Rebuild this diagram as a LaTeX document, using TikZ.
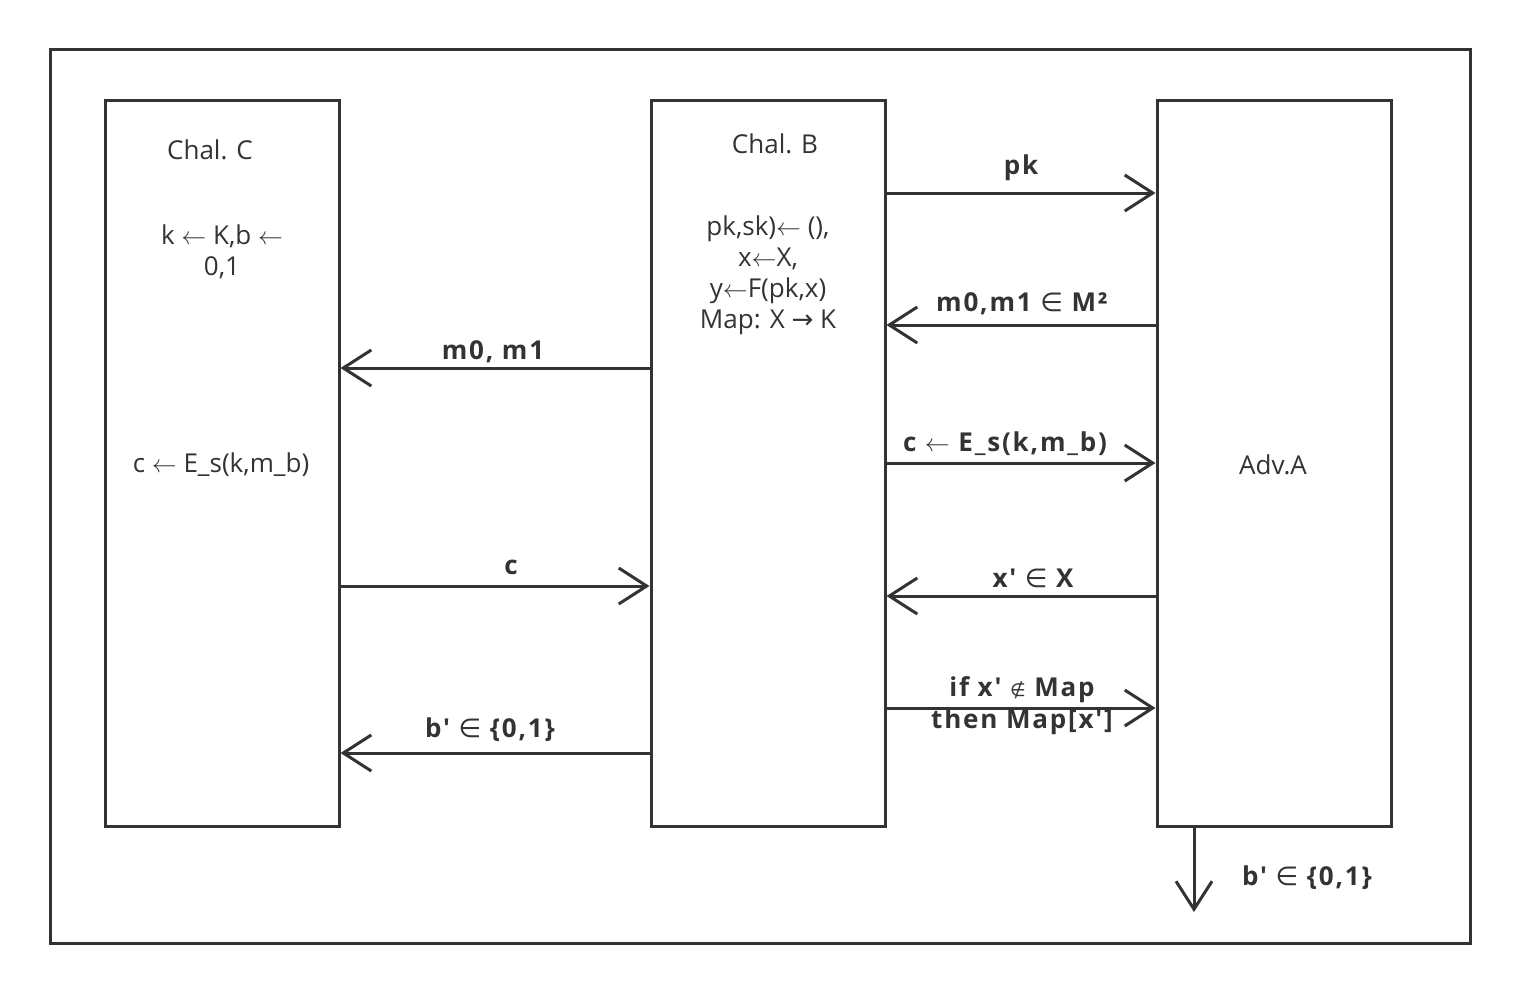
\documentclass[tikz,border=0pt]{standalone}
\usepackage{fontspec}
\setmainfont{Open Sans}[Ligatures=TeXOff]
\newfontfamily\boldf{Open Sans}[Ligatures=TeXOff, LetterSpace=7, UprightFont=*, BoldFont=* Bold]
\newfontfamily\symf{DejaVu Sans}
\usetikzlibrary{arrows.meta}
\definecolor{ink}{HTML}{333333}
\newcommand\lar{\ensuremath{\leftarrow}}
\newcommand\rar{{\symf\mdseries →}}
\newcommand\isin{{\symf\mdseries ∈}}
\newcommand\notisin{{\symf\mdseries\fontsize{18}{20}\selectfont ∉}}
\begin{document}
\begin{tikzpicture}[x=1pt,y=-1pt,
  every node/.style={text=ink},
  box/.style={draw=ink, line width=3pt, minimum width=234pt, minimum height=726pt, inner sep=0pt},
  txt/.style={font=\fontsize{26}{31}\selectfont, align=center, inner sep=0pt},
  lbl/.style={font=\fontsize{26}{32}\selectfont\boldf\bfseries, align=center, inner sep=0pt},
  msg/.style={draw=ink, line width=3pt, -{Straight Barb[length=28pt,width=36pt,line width=3pt]}}
]
\useasboundingbox (0,0) rectangle (1520,994);
\draw[ink, line width=3pt] (50,49) rectangle (1470,943);

% parties
\node[box] (C) at (222,463) {};
\node[box] (B) at (768,463) {};
\node[box] (A) at (1274,463) {};

\node[txt] (Ct) at (210,150) {Chal. C};
\node[txt] (Cs) at (222,252) {k \lar{} K,b \lar\\0,1};
\node[txt] (Ce) at (221,465) {c \lar{} E\_s(k,m\_b)};
\node[txt] (Bt) at (775,144) {Chal. B};
\node[txt] (Bs) at (768,275) {pk,sk)\lar{} (),\\x\lar X,\\y\lar F(pk,x)\\Map: X \rar{} K};
\node[txt] (At) at (1273,465) {Adv.A};

% message rows
\coordinate (r1) at (0,193);
\coordinate (r2) at (0,325);
\coordinate (r3) at (0,368);
\coordinate (r4) at (0,463);
\coordinate (r5) at (0,586);
\coordinate (r6) at (0,596);
\coordinate (r7) at (0,708);
\coordinate (r8) at (0,753);

\draw[msg] (B.east |- r1) -- (A.west |- r1);
\draw[msg] (A.west |- r2) -- (B.east |- r2);
\draw[msg] (B.west |- r3) -- (C.east |- r3);
\draw[msg] (B.east |- r4) -- (A.west |- r4);
\draw[msg] (C.east |- r5) -- (B.west |- r5);
\draw[msg] (A.west |- r6) -- (B.east |- r6);
\draw[msg] (B.east |- r7) -- (A.west |- r7);
\draw[msg] (B.west |- r8) -- (C.east |- r8);

\coordinate (out) at (1194,912);
\draw[msg] (A.south -| out) -- (out);

\node[lbl] (l1) at (1021,168) {pk};
\node[lbl] (l2) at (1022,304) {m0,m1 \isin{} M²};
\node[lbl] (l3) at (493,352) {m0, m1};
\node[lbl] (l4) at (1005,444) {c \lar{} E\_s(k,m\_b)};
\node[lbl] (l5) at (511,567) {c};
\node[lbl] (l6) at (1033,578) {x' \isin{} X};
\node[lbl] (l7) at (1022,706) {if x' \notisin{} Map\\then Map[x']};
\node[lbl] (l8) at (490,730) {b' \isin{} \{0,1\}};
\node[lbl] (l9) at (1307,878) {b' \isin{} \{0,1\}};
\end{tikzpicture}
\end{document}
